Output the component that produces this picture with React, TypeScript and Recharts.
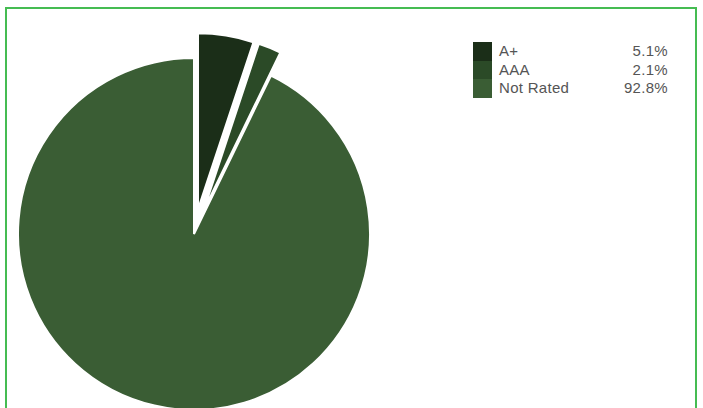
import React from 'react';
import { PieChart, Pie, Cell, Legend } from 'recharts';

const categories = ['A+', 'AAA', 'Not Rated'];
const shares = [5.1, 2.1, 92.8];
const shareLabels = ['5.1%', '2.1%', '92.8%'];
const colors = ['#1b2e18', '#2b4a27', '#3a5d34'];
const explode = [25, 25, 0];

const data = categories.map((name, i) => ({ name, value: shares[i] }));

const CX = 194;
const CY = 234;
const R = 176;

const total = shares.reduce((a, b) => a + b, 0);
const offsets = shares.map((v, i) => {
  const before = shares.slice(0, i).reduce((a, b) => a + b, 0);
  const mid = ((before + v / 2) / total) * 2 * Math.PI;
  return { dx: explode[i] * Math.sin(mid), dy: -explode[i] * Math.cos(mid) };
});

const LegendContent = () => (
  <div style={{ fontFamily: '"Liberation Sans", Arial, sans-serif', fontSize: 15, letterSpacing: 0.3, color: '#555' }}>
    {categories.map((c, i) => (
      <div key={c} style={{ display: 'flex', alignItems: 'center', height: 18.7 }}>
        <div style={{ width: 19, height: 18.7, background: colors[i] }} />
        <div style={{ marginLeft: 7, width: 100, lineHeight: '18.7px' }}>{c}</div>
        <div style={{ width: 69, textAlign: 'right', lineHeight: '18.7px' }}>{shareLabels[i]}</div>
      </div>
    ))}
  </div>
);

export default function App() {
  const order = [2, 1, 0];
  return (
    <div style={{ position: 'absolute', left: 0, top: 0, width: 703, height: 408, overflow: 'hidden', background: '#fff' }}>
      <div
        style={{
          position: 'absolute',
          left: 5,
          top: 7,
          width: 688,
          height: 500,
          border: '2px solid #45bc52',
        }}
      />
      <div style={{ position: 'absolute', left: 0, top: 0 }}>
        <PieChart width={703} height={408} margin={{ top: 0, right: 0, bottom: 0, left: 0 }}>
          {order.map((i) => (
            <Pie
              key={categories[i]}
              data={data}
              dataKey="value"
              nameKey="name"
              cx={CX + offsets[i].dx}
              cy={CY + offsets[i].dy}
              outerRadius={R}
              startAngle={90}
              endAngle={-270}
              isAnimationActive={false}
              label={false}
              labelLine={false}
            >
              {data.map((d, j) => (
                <Cell
                  key={d.name}
                  fill={j === i ? colors[j] : 'none'}
                  stroke={j === i ? '#ffffff' : 'none'}
                  strokeWidth={j === i ? 2 : 0}
                />
              ))}
            </Pie>
          ))}
          <Legend
            content={<LegendContent />}
            wrapperStyle={{ position: 'absolute', left: 473, top: 42, width: 200, height: 57 }}
          />
        </PieChart>
      </div>
    </div>
  );
}
